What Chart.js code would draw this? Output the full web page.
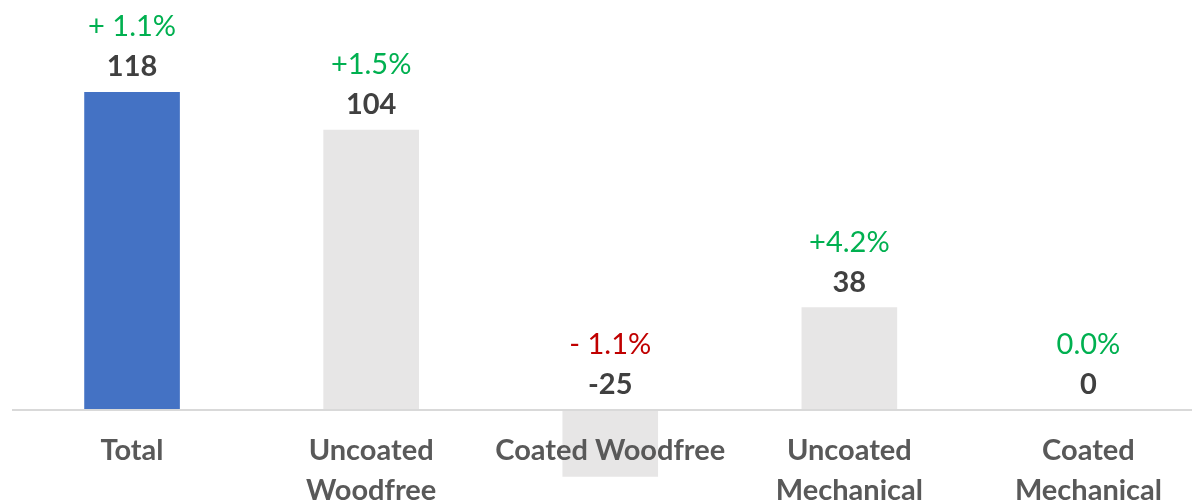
<!DOCTYPE html>
<html>
<head>
<meta charset="utf-8">
<script src="https://cdn.jsdelivr.net/npm/chart.js@4/dist/chart.umd.min.js"></script>
<style>
  html, body { margin: 0; padding: 0; overflow: hidden; background: #fff; }
  #wrap { width: 1208px; height: 501px; }
</style>
</head>
<body>
<div id="wrap"><canvas id="chart"></canvas></div>
<script>
const categories = ["Total", ["Uncoated", "Woodfree"], "Coated Woodfree", ["Uncoated", "Mechanical"], ["Coated", "Mechanical"]];
const values = [118, 104, -25, 38, 0];
const pctLabels = ["+ 1.1%", "+1.5%", "- 1.1%", "+4.2%", "0.0%"];

const barColors = values.map((v, i) => (i === 0 ? "#4472C4" : "#E7E6E6"));
const FONT = "Lato";

// value + percent labels above each bar
const labelPlugin = {
  id: "barLabels",
  afterDatasetsDraw(chart) {
    const ctx = chart.ctx;
    const xs = chart.scales.x;
    const ys = chart.scales.y;
    ctx.save();
    ctx.textAlign = "center";
    ctx.textBaseline = "middle";
    values.forEach((v, i) => {
      const x = xs.getPixelForValue(i);
      const top = ys.getPixelForValue(Math.max(v, 0));
      ctx.font = "bold 29px " + FONT;
      ctx.fillStyle = "#404040";
      ctx.fillText(String(v), x, top - 25);
      ctx.font = "29px " + FONT;
      ctx.fillStyle = pctLabels[i].startsWith("-") ? "#C00000" : "#00B050";
      ctx.fillText(pctLabels[i], x, top - 65);
    });
    ctx.restore();
  },
};

new Chart(document.getElementById("chart"), {
  type: "bar",
  data: {
    labels: categories,
    datasets: [
      {
        data: values,
        backgroundColor: barColors,
        borderWidth: 0,
        barPercentage: 0.4,
        categoryPercentage: 1,
      },
    ],
  },
  options: {
    responsive: true,
    maintainAspectRatio: false,
    animation: false,
    layout: { padding: { left: 12.5, right: 0, top: 0, bottom: 0 } },
    plugins: { legend: { display: false }, tooltip: { enabled: false } },
    scales: {
      x: {
        position: { y: 0 },
        grid: { display: false, drawTicks: false },
        border: { display: true, color: "#D9D9D9", width: 2, z: 1 },
        ticks: {
          z: 1,
          padding: 21,
          maxRotation: 0,
          autoSkip: false,
          color: "#595959",
          font: { family: FONT, size: 29, weight: "bold", lineHeight: 1.38 },
        },
        afterFit(scale) {
          scale.height = 0;
        },
      },
      y: {
        display: false,
        min: -34,
        max: 152.2,
      },
    },
  },
  plugins: [labelPlugin],
});
</script>
</body>
</html>
